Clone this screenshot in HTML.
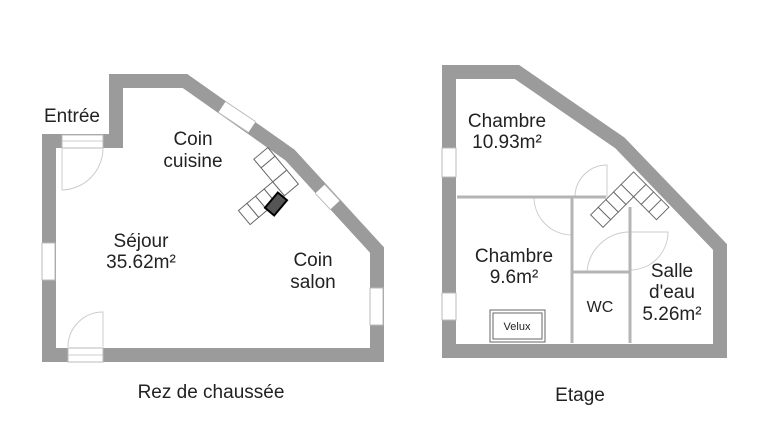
<!DOCTYPE html><html><head><style>body{margin:0;background:#fff}svg{display:block}text{font-family:"Liberation Sans",sans-serif;fill:#222;text-anchor:middle}</style></head><body>
<svg width="768" height="432" viewBox="0 0 768 432" xmlns="http://www.w3.org/2000/svg">
<g fill="none" stroke="#9b9b9b" stroke-width="14" stroke-linejoin="miter">
<path d="M49,355 L49,141 L116,141 L116,81 L185,81 L290,155 L377,250 L377,355 Z"/>
<path d="M449,351 L449,72 L517,72 L620,143 L720,247 L720,351 Z"/>
</g>
<g fill="#fff" stroke="#bbb" stroke-width="1">
<rect x="62" y="135" width="41" height="13"/><rect x="42" y="243" width="13" height="37"/><rect x="68" y="348" width="35" height="14"/><rect x="370" y="288" width="13" height="37"/>
<rect x="442" y="148" width="14" height="29"/><rect x="442" y="293" width="14" height="27"/>
</g>
<g stroke="#bbb" stroke-width="14"><line x1="222" y1="107" x2="252" y2="127"/><line x1="320" y1="189" x2="335" y2="205"/></g>
<g stroke="#fff" stroke-width="12"><line x1="222" y1="107" x2="252" y2="127"/><line x1="320" y1="189" x2="335" y2="205"/></g>
<g fill="none" stroke="#ccc" stroke-width="1">
<line x1="62" y1="141" x2="103" y2="141"/><line x1="68" y1="355" x2="103" y2="355"/>
<path d="M62,148 L62,190 A42,42 0 0 0 103,148"/><path d="M68,347 A35,35 0 0 1 103,312 L103,347"/>
<path d="M607,197 L607,165 A32,32 0 0 0 575,197"/><path d="M534,197 A38,38 0 0 0 572,235"/>
<path d="M587,272 A43,43 0 0 1 630,232 M630,232 L668,232 A38,38 0 0 1 630,270"/>
</g>
<g stroke="#b4b4b4" stroke-width="3"><line x1="457" y1="197" x2="606" y2="197"/><line x1="572" y1="197" x2="572" y2="343"/><line x1="572" y1="272" x2="630" y2="272"/><line x1="630" y1="207" x2="630" y2="343"/></g>
<g fill="#fff" stroke="#666" stroke-width="0.7">
<g transform="translate(276,190) rotate(-40) scale(1.4)"><rect x="-30" y="-6" width="8" height="13"/><rect x="-22" y="-6" width="8" height="13"/><rect x="-14" y="-6" width="8" height="13"/><rect x="-6" y="-6" width="8" height="13"/><rect x="2" y="-6" width="13" height="13"/><rect x="2" y="-19" width="13" height="13"/><rect x="2" y="-27" width="13" height="8"/></g>
<rect x="270" y="194" width="12" height="20" transform="rotate(40 276 204)" fill="#555" stroke="#000" stroke-width="2"/>
<g transform="translate(625,192) rotate(-45) scale(1.35)"><rect x="-30" y="-6" width="8" height="13"/><rect x="-22" y="-6" width="8" height="13"/><rect x="-14" y="-6" width="8" height="13"/><rect x="-6" y="-6" width="8" height="13"/><rect x="2" y="-6" width="13" height="13"/><rect x="2" y="7" width="13" height="8"/><rect x="2" y="15" width="13" height="8"/><rect x="2" y="23" width="13" height="8"/></g>
</g>
<rect x="490" y="310" width="55" height="32" fill="#fff" stroke="#666" stroke-width="1"/><rect x="493" y="313" width="49" height="26" fill="none" stroke="#666" stroke-width="1"/>
<text x="517" y="330" font-size="11">Velux</text>
<g font-size="19">
<text x="72" y="122">Entrée</text>
<text x="193" y="145">Coin</text><text x="193" y="167">cuisine</text>
<text x="141" y="247">Séjour</text><text x="141" y="268">35.62m²</text>
<text x="313" y="266">Coin</text><text x="313" y="288">salon</text>
<text x="507" y="127">Chambre</text><text x="507" y="148">10.93m²</text>
<text x="514" y="262">Chambre</text><text x="514" y="283">9.6m²</text>
<text x="672" y="277">Salle</text><text x="672" y="298">d'eau</text><text x="672" y="320">5.26m²</text>
<text x="211" y="398">Rez de chaussée</text><text x="580" y="401">Etage</text>
</g>
<text x="600" y="312" font-size="16">WC</text>
</svg></body></html>
